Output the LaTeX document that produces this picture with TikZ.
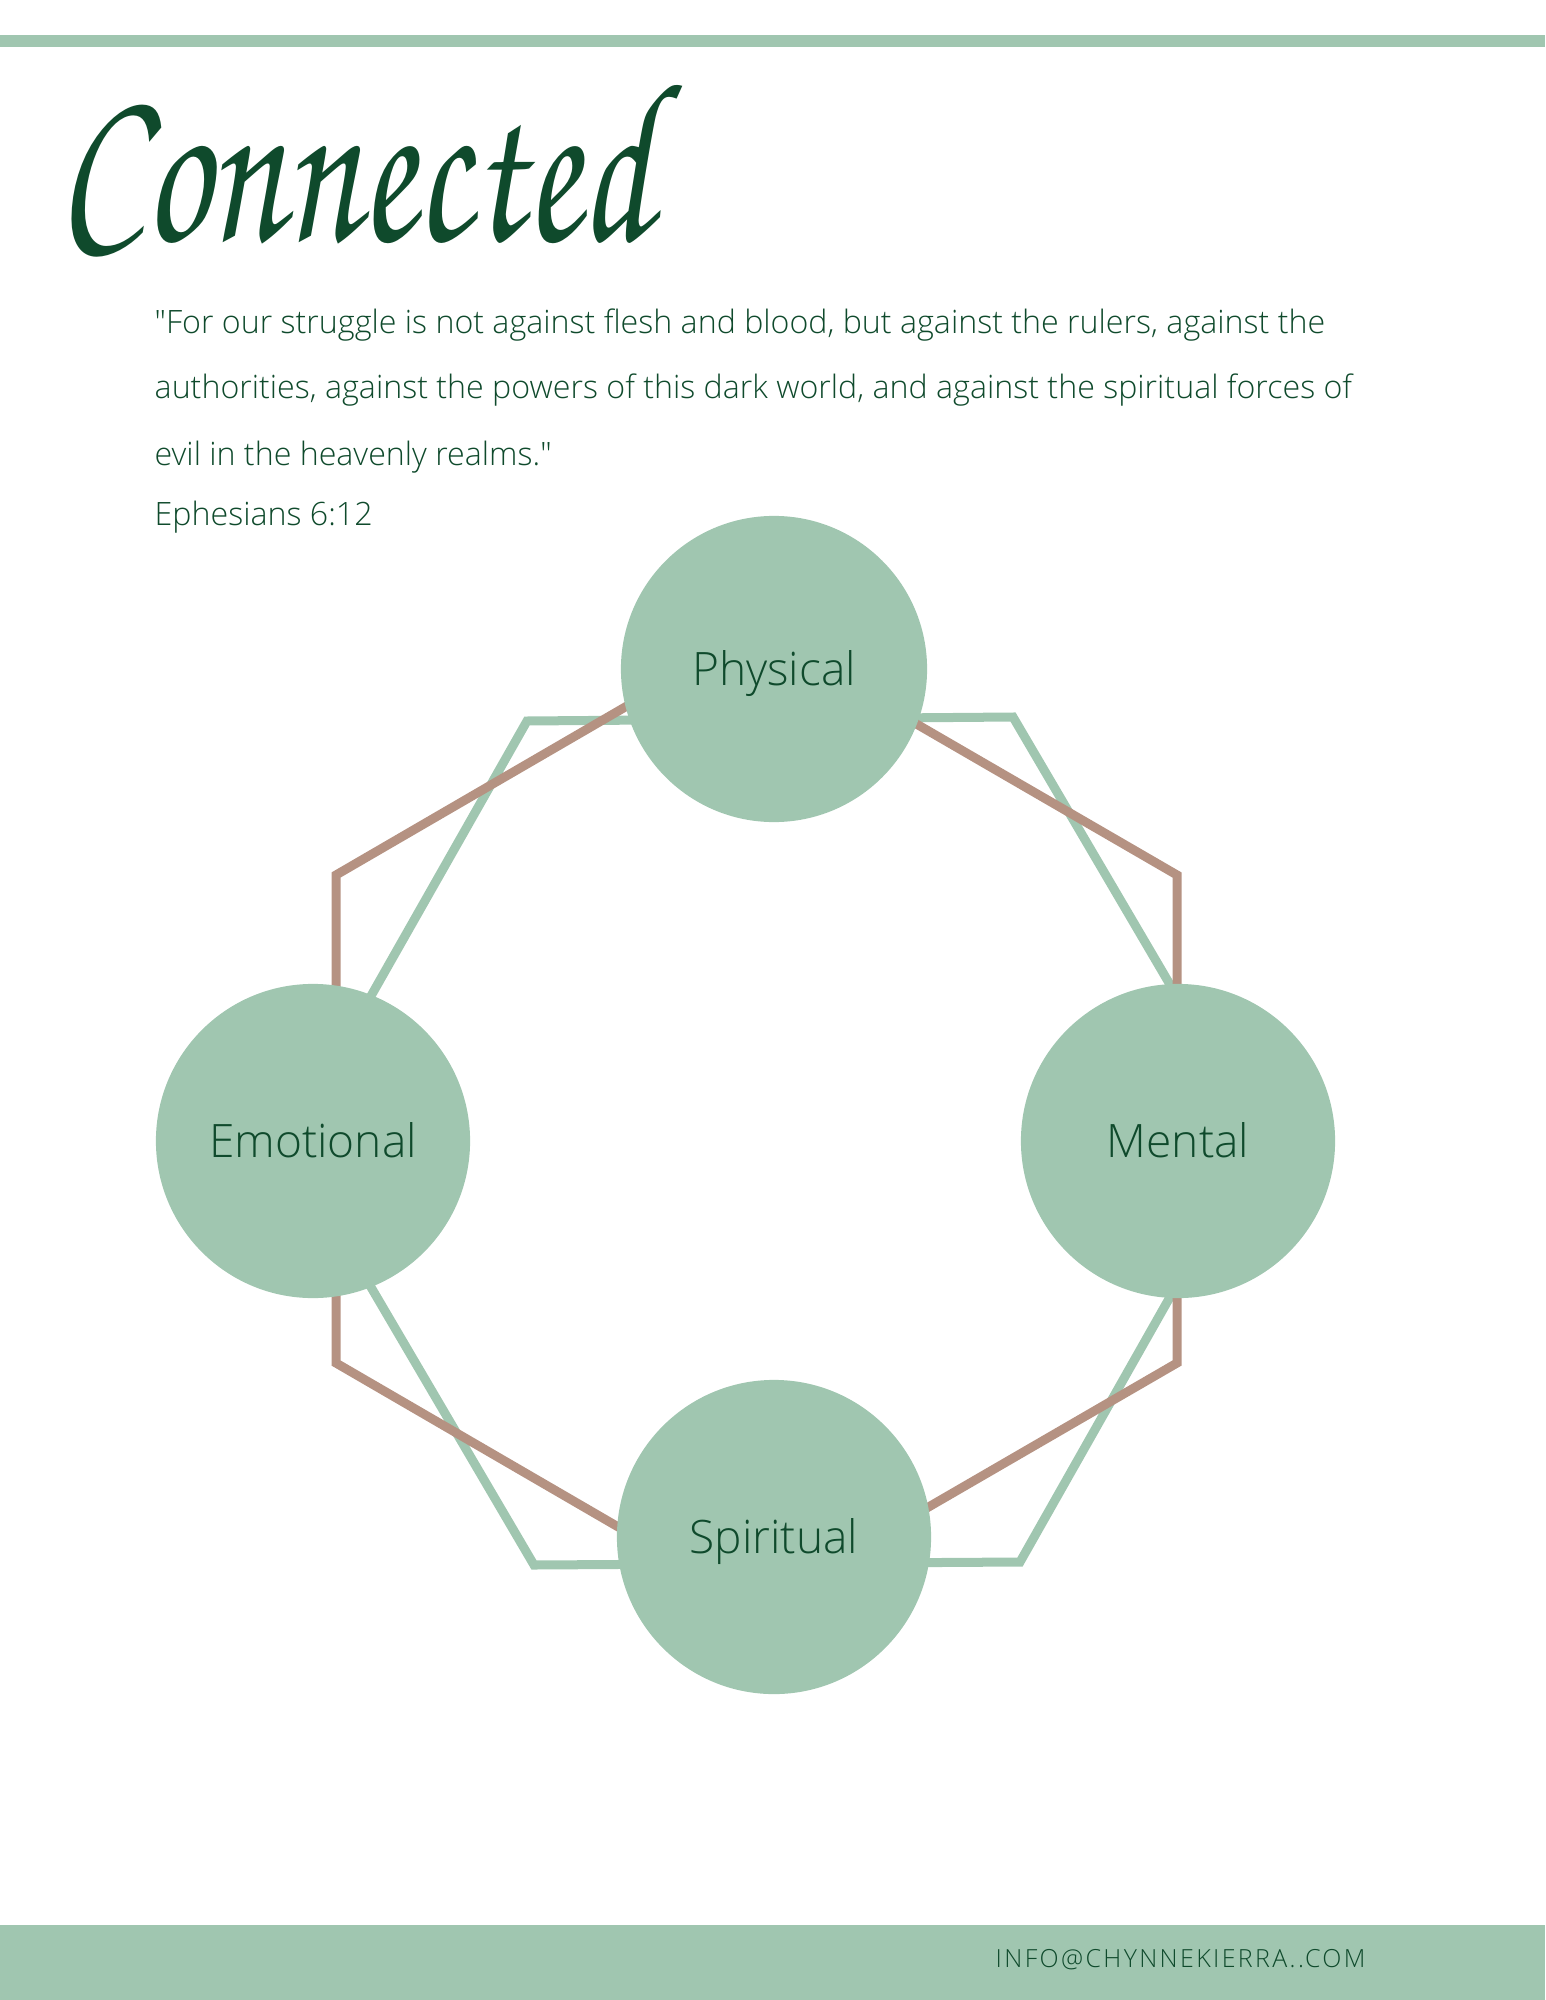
\documentclass[tikz,border=0pt]{standalone}
\usepackage{fontspec}
\setmainfont{Open Sans}
\newfontfamily\lightfont{Open Sans Light}
\newfontfamily\titlefont{TeX Gyre Chorus}
\newfontfamily\footfont[LetterSpace=9.5]{Open Sans Light}
\usepackage{tikz}
\usetikzlibrary{positioning}
\definecolor{sage}{HTML}{A0C6B0}
\definecolor{clay}{HTML}{B59282}
\definecolor{forest}{HTML}{0F4A2C}

\begin{document}
\begin{tikzpicture}[
    x=0.01cm, y=-0.01cm,
    hub/.style={circle, fill=sage, minimum size=3.14cm, inner sep=0pt, text=forest, font=\lightfont\fontsize{13.1}{15}\selectfont, text height=0.33cm, text depth=0pt},
    verse/.style={anchor=base west, inner sep=0pt, text=forest, font=\lightfont\fontsize{9.15}{11}\selectfont},
    ring/.style={line width=0.09cm, line join=miter}
]
\useasboundingbox (0,0) rectangle (1545,2000);

% bars
\fill[sage] (0,35) rectangle (1545,47);
\fill[sage] (0,1925) rectangle (1545,2000);

% title and verse
\node[anchor=south west, inner sep=0pt, text=forest] (title) at (57,258) {\resizebox{5.94cm}{1.55cm}{\titlefont Connected}};
\node[verse] (q1) at (154,333) {"For our struggle is not against flesh and blood, but against the rulers, against the};
\node[verse] (q2) at (154,398) {authorities, against the powers of this dark world, and against the spiritual forces of};
\node[verse] (q3) at (154,465) {evil in the heavenly realms."};
\node[verse] (ref) at (154,525) {Ephesians 6:12};

% hexagons
\coordinate (g1) at (527,721);
\coordinate (g2) at (1013,717);
\coordinate (g3) at (1260,1138);
\coordinate (g4) at (1020,1562);
\coordinate (g5) at (534,1565);
\coordinate (g6) at (287,1144);
\coordinate (b1) at (756,631);
\coordinate (b2) at (1177,875);
\coordinate (b3) at (1177,1363);
\coordinate (b4) at (756,1607);
\coordinate (b5) at (336,1363);
\coordinate (b6) at (336,875);
\draw[ring, sage] (g1) -- (g2) -- (g3) -- (g4) -- (g5) -- (g6) -- cycle;
\draw[ring, clay] (b1) -- (b2) -- (b3) -- (b4) -- (b5) -- (b6) -- cycle;

% circles
\node[hub, minimum size=3.06cm] (phys) at (774,669) {Physical};
\node[hub] (emo) at (313,1141) {Emotional};
\node[hub] (ment) at (1178,1141) {Mental};
\node[hub] (spir) at (774,1537) {Spiritual};

% footer
\node[anchor=base west, inner sep=0pt, text=forest, font=\footfont\fontsize{7.1}{9}\selectfont] (mail) at (995,1967) {INFO@CHYNNEKIERRA..COM};
\end{tikzpicture}
\end{document}
